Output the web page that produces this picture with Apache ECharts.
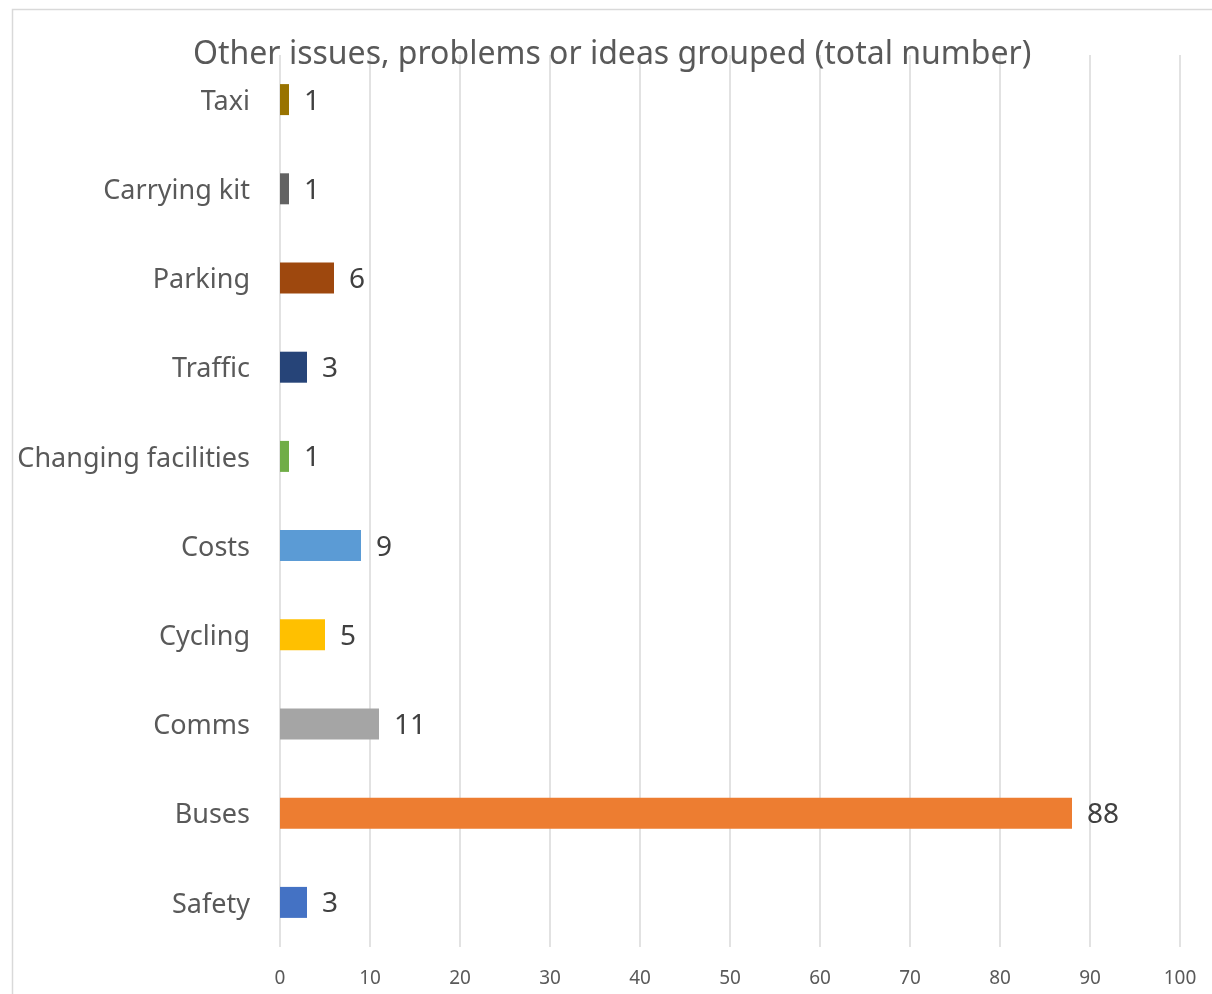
<!DOCTYPE html>
<html>
<head>
<meta charset="utf-8">
<script src="https://cdn.jsdelivr.net/npm/echarts@6/dist/echarts.min.js"></script>
<style>html,body{margin:0;padding:0;background:#fff;}#c{width:1212px;height:994px;}</style>
</head>
<body>
<div id="c"></div>
<script>
const titleText = 'Other issues, problems or ideas grouped (total number)';
const categories = ['Safety', 'Buses', 'Comms', 'Cycling', 'Costs', 'Changing facilities', 'Traffic', 'Parking', 'Carrying kit', 'Taxi'];
const values = [3, 88, 11, 5, 9, 1, 3, 6, 1, 1];
const colors = ['#4472C4', '#ED7D31', '#A5A5A5', '#FFC000', '#5B9BD5', '#70AD47', '#264478', '#9E480E', '#636363', '#997300'];
const xTicks = [0, 10, 20, 30, 40, 50, 60, 70, 80, 90, 100];

const chart = echarts.init(document.getElementById('c'), null, {renderer: 'canvas'});
const font = '"Noto Sans", "Open Sans", sans-serif';
chart.setOption({
  animation: false,
  backgroundColor: '#fff',
  graphic: [{
    type: 'rect', left: 10, top: 7, z: -1,
    shape: {width: 1210, height: 1000},
    style: {fill: 'none', stroke: '#d9d9d9', lineWidth: 1.5}
  }],
  title: {
    text: titleText, left: 188, top: 34,
    textStyle: {fontFamily: font, fontSize: 32, fontWeight: 'normal', color: '#595959'}
  },
  grid: {left: 280, width: 900, top: 55, height: 892, containLabel: false},
  xAxis: {
    type: 'value', min: xTicks[0], max: xTicks[xTicks.length - 1], interval: 10,
    axisLine: {show: false}, axisTick: {show: false},
    axisLabel: {margin: 22, fontFamily: font, fontSize: 19, color: '#595959'},
    splitLine: {lineStyle: {color: '#d9d9d9', width: 1.5}}
  },
  yAxis: {
    type: 'category', data: categories,
    axisLine: {show: false}, axisTick: {show: false},
    axisLabel: {
      margin: 30, fontFamily: font, fontSize: 27, color: '#595959',
      formatter: v => '{c|' + v + '}',
      rich: {c: {fontFamily: font, fontSize: 27, color: '#595959', padding: [5, 0, 0, 0]}}
    }
  },
  series: [{
    type: 'bar', barWidth: 31,
    data: values.map((v, i) => ({value: v, itemStyle: {color: colors[i]}})),
    label: {show: true, position: 'right', distance: 15, offset: [0, 2], fontFamily: font, fontSize: 28, color: '#404040'}
  }]
});
</script>
</body>
</html>
